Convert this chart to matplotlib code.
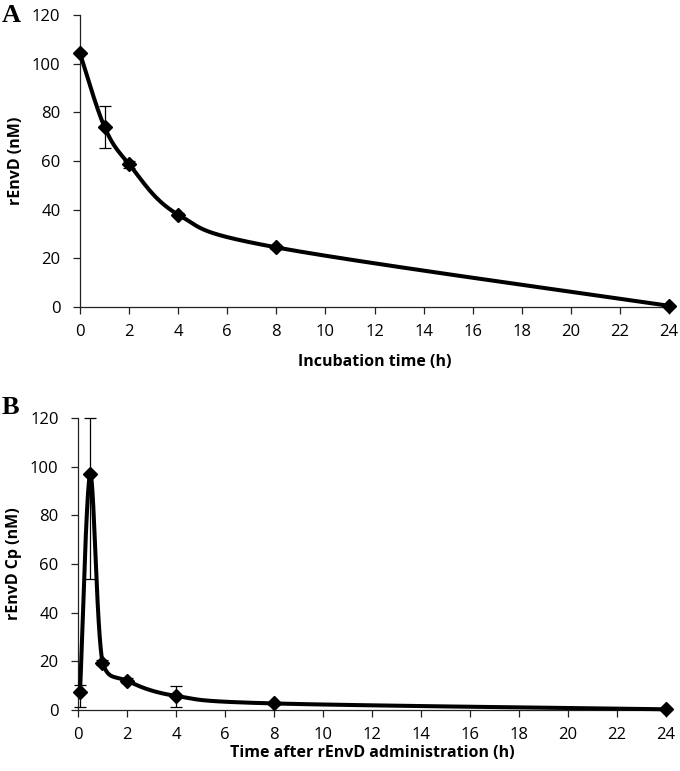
import numpy as np
import matplotlib.pyplot as plt

# Panel A: in vitro stability
time_a = [0, 1, 2, 4, 8, 24]
conc_a = [104.3, 74, 58.7, 38, 24.5, 0.5]
err_a_low = [0, 8.5, 1.5, 0.8, 0.5, 0]
err_a_high = [0, 8.5, 1.5, 0.8, 0.5, 0]

# Panel B: plasma concentration after administration
time_b = [0.083, 0.5, 1, 2, 4, 8, 24]
conc_b = [7.3, 97, 19.5, 12, 5.8, 2.7, 0.3]
err_b_low = [5.9, 43, 1, 1, 4.4, 0.5, 0]
err_b_high = [3.0, 23, 1, 1, 4.1, 0.5, 0]

xticks = list(range(0, 25, 2))
yticks = list(range(0, 121, 20))


def smooth(x, y, n=60):
    # Excel-like smoothed line: cubic Bezier, control points kept within each segment's range
    x = np.asarray(x, float)
    y = np.asarray(y, float)
    px, py = [], []
    for i in range(len(x) - 1):
        x0, y0 = (x[i - 1], y[i - 1]) if i > 0 else (x[i], y[i])
        x3, y3 = (x[i + 2], y[i + 2]) if i + 2 < len(x) else (x[i + 1], y[i + 1])
        lo, hi = min(y[i], y[i + 1]), max(y[i], y[i + 1])
        c1x = x[i] + (x[i + 1] - x0) / 6
        c1y = np.clip(y[i] + (y[i + 1] - y0) / 6, lo, hi)
        c2x = x[i + 1] - (x3 - x[i]) / 6
        c2y = np.clip(y[i + 1] - (y3 - y[i]) / 6, lo, hi)
        t = np.linspace(0, 1, n)
        bx = (1 - t) ** 3 * x[i] + 3 * (1 - t) ** 2 * t * c1x + 3 * (1 - t) * t ** 2 * c2x + t ** 3 * x[i + 1]
        by = (1 - t) ** 3 * y[i] + 3 * (1 - t) ** 2 * t * c1y + 3 * (1 - t) * t ** 2 * c2y + t ** 3 * y[i + 1]
        px.extend(bx)
        py.extend(by)
    return px, py


fig = plt.figure(figsize=(6.8, 7.71), dpi=100)
ax_a = fig.add_axes([0.1176, 0.6018, 0.8664, 0.3787])
ax_b = fig.add_axes([0.1147, 0.0791, 0.8643, 0.3787])

panels = [
    (ax_a, time_a, conc_a, err_a_low, err_a_high, 'Incubation time (h)', 'rEnvD (nM)', 'A', 0.980, 10),
    (ax_b, time_b, conc_b, err_b_low, err_b_high, 'Time after rEnvD administration (h)', 'rEnvD Cp (nM)', 'B', 0.472, 2),
]

for ax, t, c, el, eh, xl, yl, letter, ly, lpad in panels:
    sx, sy = smooth(t, c)
    ax.plot(sx, sy, color='black', lw=2.9, solid_capstyle='round', zorder=3, clip_on=False)
    ax.errorbar(t, c, yerr=[el, eh], fmt='none', ecolor='black', elinewidth=0.9,
                capsize=4, capthick=0.9, zorder=2, clip_on=False)
    ax.plot(t, c, 'D', color='black', ms=7.5, zorder=4, clip_on=False)
    ax.set_xlim(0, 24)
    ax.set_ylim(0, 120)
    ax.set_xticks(xticks)
    ax.set_yticks(yticks)
    ax.spines['top'].set_visible(False)
    ax.spines['right'].set_visible(False)
    for s in ('left', 'bottom'):
        ax.spines[s].set_linewidth(0.9)
        ax.spines[s].set_color('#222222')
    ax.tick_params(direction='out', length=5, width=0.9, labelsize=12, color='#222222')
    ax.tick_params(axis='y', pad=9)
    ax.tick_params(axis='x', pad=7)
    for lab in ax.get_xticklabels() + ax.get_yticklabels():
        lab.set_family('Open Sans')
    ax.set_xlabel(xl, fontsize=11.5, fontweight='bold', family='Open Sans', labelpad=lpad)
    ax.set_ylabel(yl, fontsize=11.5, fontweight='bold', family='Open Sans', labelpad=6)
    fig.text(0.003, ly, letter, fontsize=19, fontweight='bold',
             family='Liberation Serif', ha='left', va='center')

fig.savefig('out.png', dpi=100)
